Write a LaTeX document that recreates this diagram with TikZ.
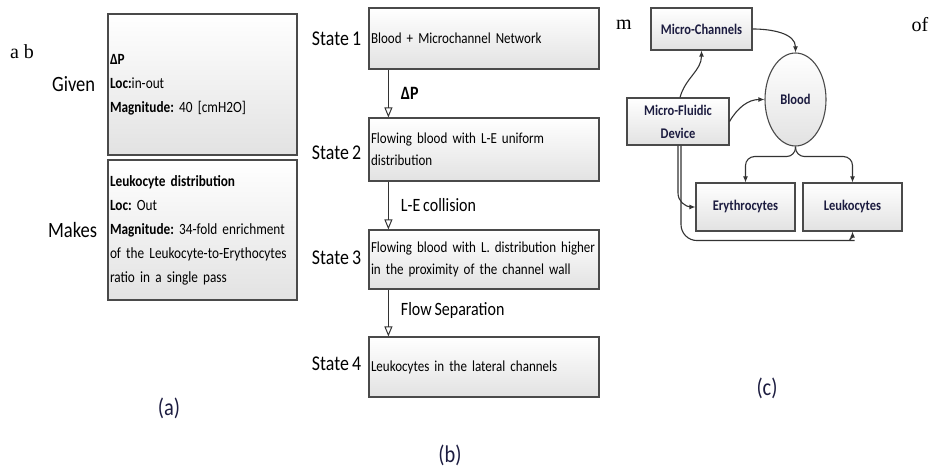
\documentclass[tikz,border=0pt]{standalone}
\usepackage{fontspec}
\setmainfont{Carlito}[FakeStretch=0.85, WordSpace=0.8]
\newfontfamily\pagefont{Liberation Serif}
\usetikzlibrary{calc,positioning,shapes.geometric,arrows.meta,shadows}
\definecolor{boxedge}{HTML}{4A4A4A}
\definecolor{boxfoot}{HTML}{E2E2E2}
\definecolor{inknavy}{HTML}{1C1C40}
\definecolor{linkgray}{HTML}{333333}
\frenchspacing
\tikzset{
	% ------- every something
	every node/.style={
		font=\normalsize,
	},
	% ------- custom
	box shadow/.style={
		drop shadow={shadow xshift=1.2pt, shadow yshift=-1.2pt, opacity=0.25},
	},
	info box/.style={
		rectangle, draw=boxedge, line width=1.3pt,
		top color=white, bottom color=boxfoot, box shadow,
		text width=185pt, align=left, inner xsep=2pt, inner ysep=3pt,
		font=\fontsize{15.6}{24}\selectfont,
	},
	state box/.style={
		rectangle, draw=boxedge, line width=1.2pt,
		top color=white, bottom color=boxfoot, box shadow,
		text width=226pt, align=left, inner xsep=2pt, inner ysep=3pt,
		font=\fontsize{15.3}{22}\selectfont,
	},
	chart box/.style={
		rectangle, draw=boxedge, line width=1.1pt,
		top color=white, bottom color=boxfoot, box shadow,
		align=center, inner sep=2pt, text=inknavy,
		font=\bfseries\fontsize{14.7}{23}\selectfont,
	},
	blood cell/.style={
		ellipse, draw=boxedge, line width=1.1pt,
		top color=white, bottom color=boxfoot,
		minimum width=61pt, minimum height=93pt, inner sep=0pt,
		text=inknavy, font=\bfseries\fontsize{14.7}{17}\selectfont,
	},
	side label/.style={
		inner sep=0pt, font=\fontsize{21.8}{25}\selectfont,
	},
	state label/.style={
		inner sep=0pt, font=\fontsize{21}{24}\selectfont,
	},
	step label/.style={
		midway, right=12pt, inner sep=0pt,
		font=\fontsize{18.8}{22}\selectfont,
	},
	panel label/.style={
		inner sep=0pt, text=inknavy, font=\fontsize{24}{28}\selectfont,
	},
	page text/.style={
		inner sep=0pt, font=\pagefont\fontsize{20}{24}\selectfont,
	},
	transition/.style={
		draw=linkgray, line width=1.1pt,
		-{Triangle[open, length=10pt, width=8pt, line width=1pt]},
	},
	flow/.style={
		draw=linkgray, line width=1.1pt,
		-{Latex[length=6pt, width=5pt]},
	},
}

\begin{document}
\begin{tikzpicture}[x=1pt, y=1pt]

% frame %{{{1

	\useasboundingbox (0,0) rectangle (936,468);

% page text %{{{1

	\node[page text] (wordAB) at (22,416) {a b};
	\node[page text] (wordM) at (624,443) {m};
	\node[page text] (wordOf) at (920,443) {of};

% panel (a) %{{{1

	\node[info box, minimum height=141pt] (given) at (202.5,383.5)
	{\textbf{ΔP}\\\textbf{Loc:}in-out\\\textbf{Magnitude:} 40 [cmH2O]};
	\node[info box, minimum height=140pt] (makes) at (202.5,238)
	{\textbf{Leukocyte distribution}\\\textbf{Loc:} Out\\\textbf{Magnitude:} 34-fold enrichment\\of the Leukocyte-to-Erythocytes\\ratio in a single pass};

	\node[side label, left=12pt of given] (givenLabel) {Given};
	\node[side label, left=10pt of makes] (makesLabel) {Makes};

	\node[panel label] (panelA) at (169,60) {(a)};

% panel (b) %{{{1

	\node[state box, minimum height=61pt] (state1) at (484,429.5)
	{Blood + Microchannel Network};
	\node[state box, minimum height=63pt] (state2) at (484,318.5)
	{Flowing blood with L-E uniform\\distribution};
	\node[state box, minimum height=59pt] (state3) at (484,208.5)
	{Flowing blood with L. distribution higher\\in the proximity of the channel wall};
	\node[state box, minimum height=60pt] (state4) at (484,101)
	{Leukocytes in the lateral channels};

	\node[state label, left=7pt of state1] (label1) {State 1};
	\node[state label, left=7pt of state2, yshift=-3pt] (label2) {State 2};
	\node[state label, left=7pt of state3, yshift=2pt] (label3) {State 3};
	\node[state label, left=7pt of state4, yshift=3pt] (label4) {State 4};

	\draw[transition] ($(state1.south west)+(20,0)$) --
	node[step label] (stepDP) {\textbf{ΔP}} ($(state2.north west)+(20,0)$);
	\draw[transition] ($(state2.south west)+(20,0)$) --
	node[step label] (stepLE) {L-E collision} ($(state3.north west)+(20,0)$);
	\draw[transition] ($(state3.south west)+(20,0)$) --
	node[step label, yshift=3pt] (stepFS) {Flow Separation} ($(state4.north west)+(20,0)$);

	\node[panel label] (panelB) at (450,13) {(b)};

% panel (c) %{{{1

	\node[chart box, minimum width=101pt, minimum height=42pt] (channels) at (701.5,439) {Micro-Channels};
	\node[chart box, minimum width=102pt, minimum height=47pt] (device) at (678,346.5) {Micro-Fluidic\\Device};
	\node[blood cell] (blood) at (795.5,368.5) {Blood};
	\node[chart box, minimum width=99pt, minimum height=48pt] (erythro) at (745.5,261) {Erythrocytes};
	\node[chart box, minimum width=99pt, minimum height=48pt] (leuko) at (852.5,261) {Leukocytes};

	\draw[flow] ([xshift=2pt]device.north) to[out=75, in=-90] (channels.south);
	\draw[flow] (device.east) to[out=60, in=180] (blood.west);
	\draw[flow] (channels.east) to[out=0, in=90] (blood.north);
	\draw[flow, rounded corners=9pt] (blood.south) -- ++(0,-10) -| (erythro.north);
	\draw[flow, rounded corners=9pt] (blood.south) -- ++(0,-10) -| (leuko.north);
	\draw[flow, rounded corners=14pt] (device.south) |- (erythro.west);
	\draw[flow, rounded corners=16pt] ([xshift=3pt]device.south) |- ([xshift=-14pt, yshift=-9pt]leuko.south)
	to[out=0, in=-90] (leuko.south);

	\node[panel label] (panelC) at (767,80) {(c)};

% closing %{{{1

\end{tikzpicture}
\end{document}
